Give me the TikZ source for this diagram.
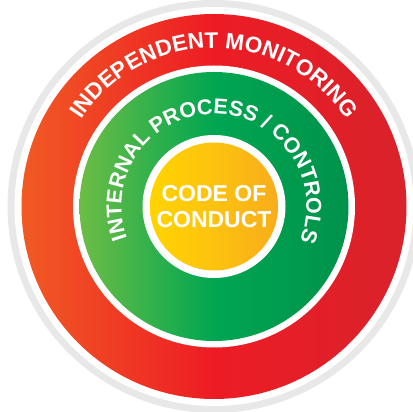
\documentclass[tikz,border=0pt]{standalone}
\usepackage{fontspec}
\setmainfont{Liberation Sans}
\usetikzlibrary{decorations.text}
\definecolor{ringgray}{HTML}{E8E8E8}
\definecolor{rA}{HTML}{F15A24}
\definecolor{rB}{HTML}{ED1C24}
\definecolor{rC}{HTML}{D9222B}
\definecolor{gA}{HTML}{6CBD45}
\definecolor{gB}{HTML}{00A651}
\definecolor{gC}{HTML}{00924B}
\definecolor{yA}{HTML}{FFD400}
\definecolor{yB}{HTML}{FDC210}
\definecolor{yC}{HTML}{F8AD1B}
\pgfdeclarehorizontalshading{redsh}{100bp}{color(0bp)=(rA); color(25bp)=(rA); color(50bp)=(rB); color(75bp)=(rC); color(100bp)=(rC)}
\pgfdeclarehorizontalshading{greensh}{100bp}{color(0bp)=(gA); color(25bp)=(gA); color(50bp)=(gB); color(75bp)=(gC); color(100bp)=(gC)}
\pgfdeclarehorizontalshading{yellowsh}{100bp}{color(0bp)=(yA); color(25bp)=(yA); color(50bp)=(yB); color(75bp)=(yC); color(100bp)=(yC)}
\newcommand{\outerfont}{\fontsize{22.5}{22.5}\selectfont\bfseries}
\newcommand{\innerfont}{\fontsize{21.5}{21.5}\selectfont\bfseries}
\begin{document}
\begin{tikzpicture}[x=1pt,y=1pt,
  disc/.style={circle, inner sep=0pt, outer sep=0pt, draw=none, minimum size=#1},
  label/.style={text=white, font=\fontsize{23}{26.5}\selectfont\bfseries, align=center}]
\useasboundingbox (0,0) rectangle (413,412);
\coordinate (c) at (214,205.5);
\node[disc=413pt, fill=ringgray] (gray) at (c) {};
\node[disc=399pt, fill=white] (gapa) at (c) {};
\node[disc=385pt, shading=redsh] (red) at (c) {};
\node[disc=282pt, fill=white] (gapb) at (c) {};
\node[disc=269pt, shading=greensh] (green) at (c) {};
\node[disc=143pt, fill=white] (gapc) at (c) {};
\node[disc=128pt, shading=yellowsh] (yellow) at (c) {};
\node[label] (coc) at (c) {CODE OF\\CONDUCT};
\path[decorate, decoration={text along path, text align=center, text color=white,
  text={|\outerfont|INDEPENDENT MONITORING}}]
  ([shift={(155:158.5)}]c) arc[start angle=155, end angle=25, radius=158.5];
\path[decorate, decoration={text along path, text align=center, text color=white,
  text={|\innerfont|INTERNAL PROCESS / CONTROLS}}]
  ([shift={(208:92.5)}]c) arc[start angle=208, end angle=-30, radius=92.5];
\end{tikzpicture}
\end{document}
